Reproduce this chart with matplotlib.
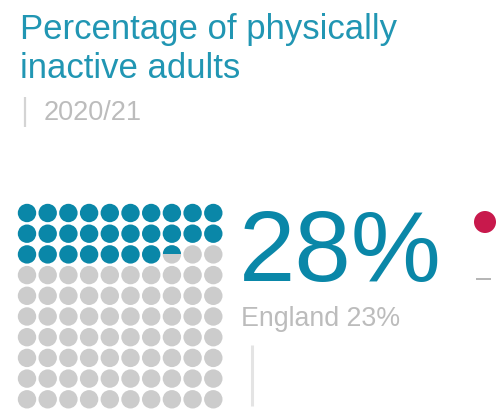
import numpy as np
import matplotlib
matplotlib.use('Agg')
import matplotlib.pyplot as plt
from matplotlib.patches import Circle, Rectangle

# --- data ---
title_lines = ["Percentage of physically", "inactive adults"]
period = "2020/21"
area_pct = 27.5          # filled dots (27 full + half of the 28th)
area_label = "28%"
england_label = "England 23%"
grid_rows = 10
grid_cols = 10

# --- colours ---
TEAL = '#0a87a8'
TITLE = '#2196b3'
GREY_DOT = '#cccccc'
GREY_TXT = '#bcbcbc'
RED = '#c8194c'

plt.rcParams['font.family'] = ['Liberation Sans', 'DejaVu Sans']

fig = plt.figure(figsize=(5.0, 4.18), dpi=100, facecolor='white')
ax = fig.add_axes([0, 0, 1, 1])
ax.set_xlim(0, 500)
ax.set_ylim(418, 0)      # pixel-like coords, y down
ax.axis('off')

# ── title ──
ax.text(20.5, 39, title_lines[0], color=TITLE, fontsize=25, va='baseline', ha='left')
ax.text(20.5, 78, title_lines[1], color=TITLE, fontsize=25, va='baseline', ha='left')
ax.plot([25, 25], [97, 127], color='#d4d4d4', lw=1.6, solid_capstyle='butt')
ax.text(44, 120, period, color=GREY_TXT, fontsize=19.5, va='baseline', ha='left')

# ── waffle grid ──
x0, y0, step, r = 27, 213, 20.7, 9.2
for i in range(grid_rows * grid_cols):
    row, col = divmod(i, grid_cols)
    cx, cy = x0 + col * step, y0 + row * step
    frac = float(np.clip(area_pct - i, 0, 1))
    ax.add_patch(Circle((cx, cy), r, color=GREY_DOT if frac < 1 else TEAL, lw=0))
    if 0 < frac < 1:
        # partly filled dot: teal from the top
        top = Circle((cx, cy), r, color=TEAL, lw=0)
        ax.add_patch(top)
        clip = Rectangle((cx - r, cy - r), 2 * r, 2 * r * frac, transform=ax.transData)
        top.set_clip_path(clip)

# ── big number ──
ax.text(238.5, 281, area_label, color=TEAL, fontsize=73, va='baseline', ha='left')
ax.text(241, 326, england_label, color=GREY_TXT, fontsize=19.3, va='baseline', ha='left')
ax.plot([251.5, 251.5], [345, 406], color='#e4e4e4', lw=2.2, solid_capstyle='butt')

# ── marker at right edge ──
ax.add_patch(Circle((485, 222), 11, color=RED, lw=0))
ax.plot([476, 491], [279, 279], color='#b4b4b4', lw=1.4, solid_capstyle='butt')

plt.savefig('out.png', dpi=100, facecolor='white')
plt.close()
